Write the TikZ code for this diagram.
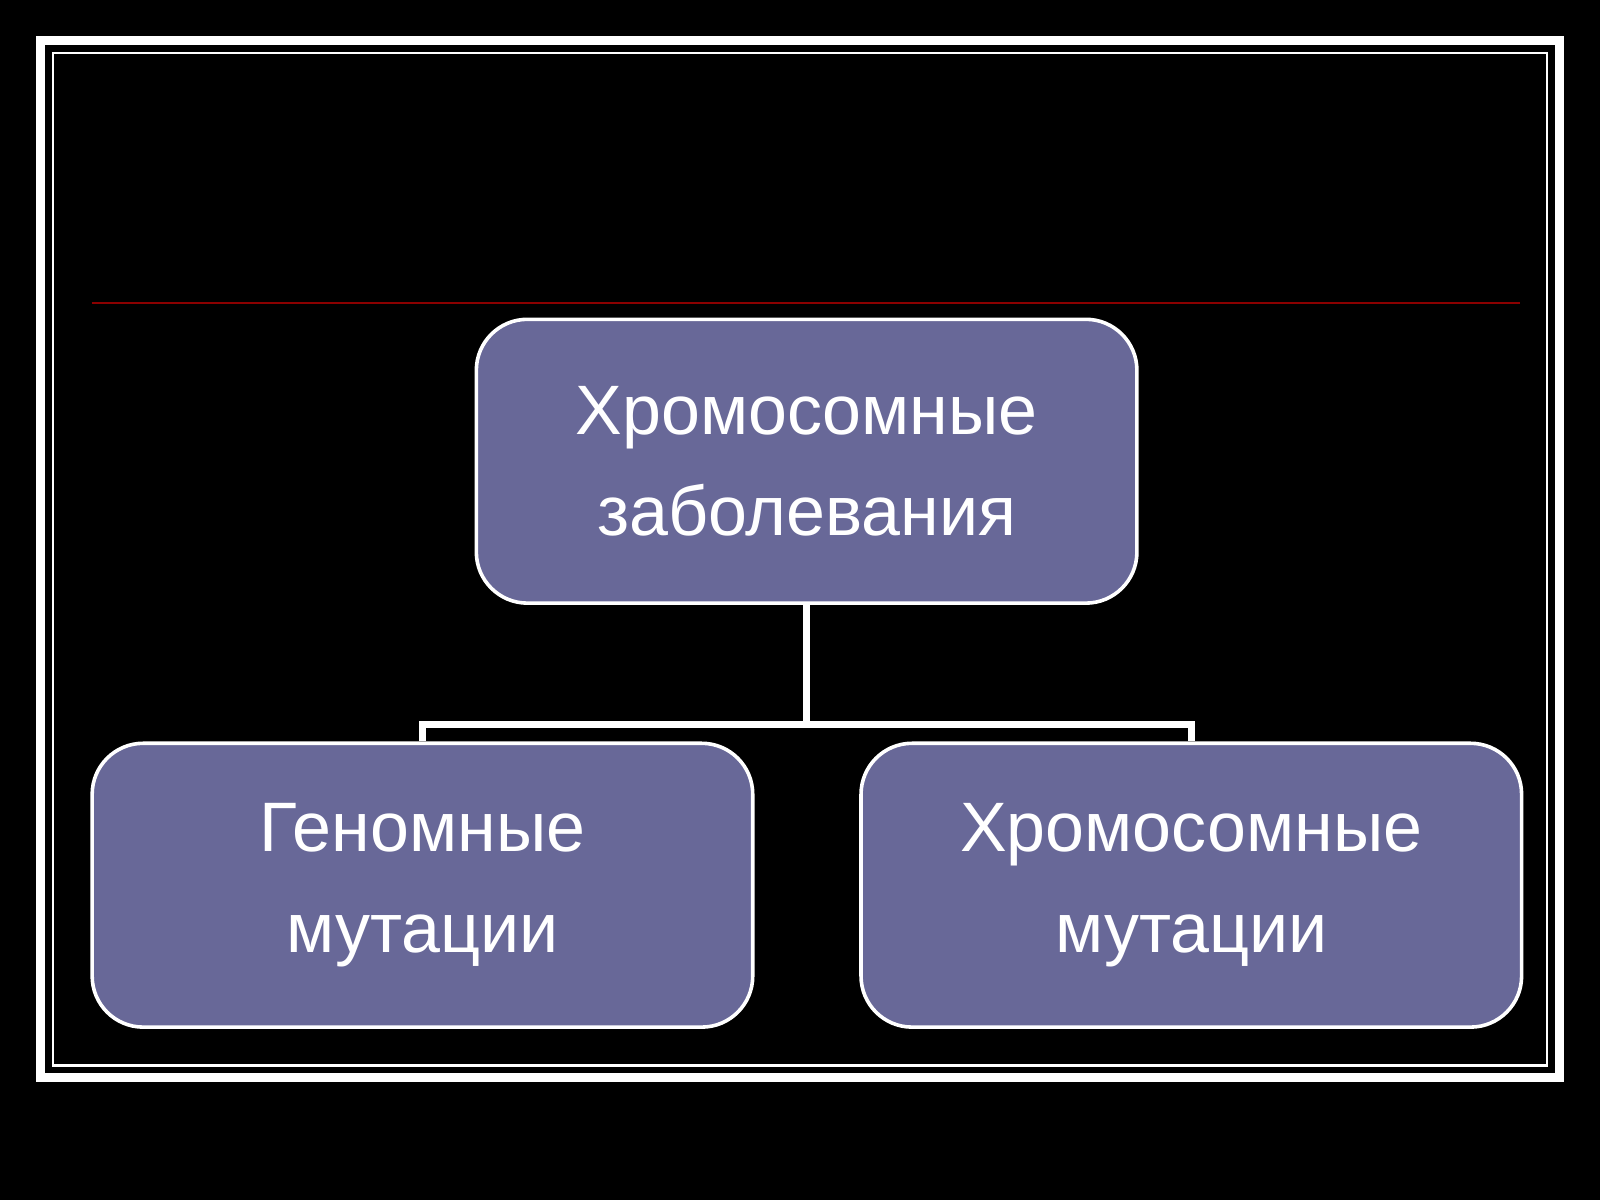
\documentclass[tikz,border=0pt]{standalone}
\usepackage{fontspec}
\setmainfont{Liberation Sans}
\usetikzlibrary{positioning}
\definecolor{boxfill}{HTML}{686898}
\definecolor{rule}{HTML}{8B0000}

\begin{document}
\begin{tikzpicture}[x=0.01cm, y=-0.01cm,
    every node/.style={font=\fontsize{19.5}{28}\selectfont, align=center, text=white},
    termbox/.style={draw=white, fill=boxfill, rounded corners=0.5cm, line width=1pt,
        minimum width=6.47cm, minimum height=2.78cm}]

    % background and frames
    \fill[black] (0,0) rectangle (1568,1176);
    \useasboundingbox (0,0) rectangle (1568,1176);
    \draw[white, line width=2.6pt] (40,40) rectangle (1528,1056);
    \draw[white, line width=0.8pt] (52,52) rectangle (1516,1044);
    \draw[rule, line width=0.6pt] (90,297) -- (1490,297);

    % boxes
    \node[termbox] (top) at (790.5,452) {Хромосомные\\ заболевания};
    \node[termbox] (gen) at (414,867.5) {Геномные\\мутации};
    \node[termbox] (chr) at (1167.5,867.5) {Хромосомные\\мутации};

    % connectors
    \coordinate (mid) at (790.5,710);
    \draw[white, line width=2pt] (top.south) -- (mid);
    \draw[white, line width=2pt] (gen.north) |- (mid) -| (chr.north);

\end{tikzpicture}
\end{document}
